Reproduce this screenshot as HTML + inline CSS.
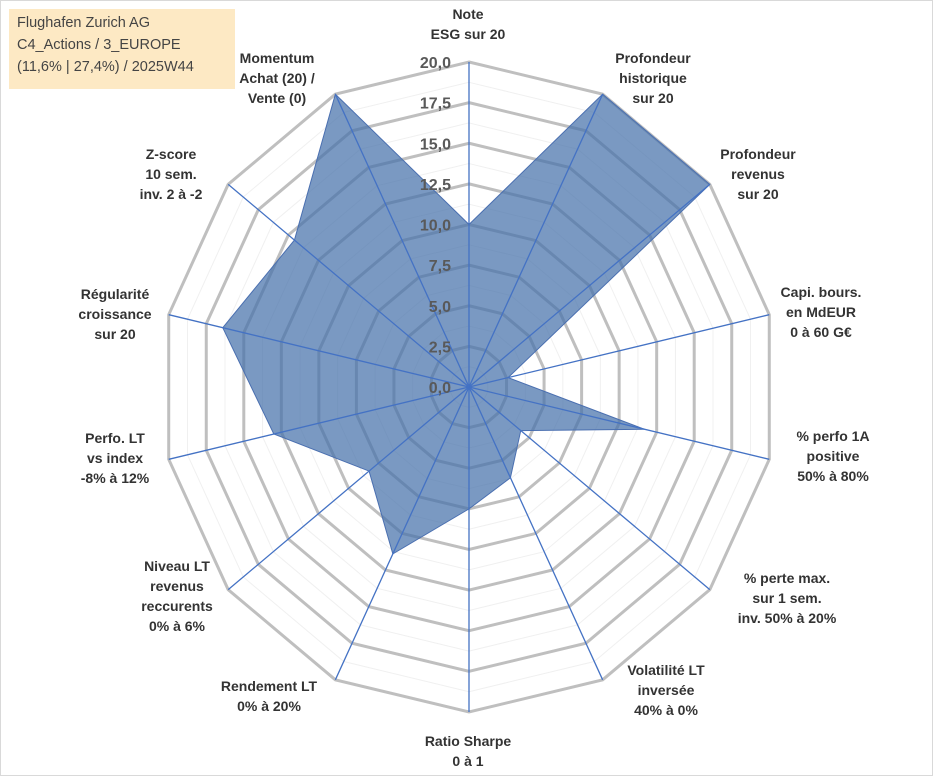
<!DOCTYPE html>
<html><head><meta charset="utf-8"><style>
body{margin:0;background:#fff;font-family:"Liberation Sans",Arial,sans-serif}
#wrap{position:relative;width:933px;height:776px;overflow:hidden;border:1px solid #d9d9d9;box-sizing:border-box}
.lbl{font-weight:bold;font-size:14px;fill:#333;text-anchor:middle}
</style></head><body>
<div id="wrap">
<div style="position:absolute;left:8px;top:8px;width:226px;height:80px;background:#fde9c4;font-size:14.5px;color:#444;line-height:22px;padding:3px 0 0 8px;box-sizing:border-box">Flughafen Zurich AG<br>C4_Actions / 3_EUROPE<br>(11,6% | 27,4%) / 2025W44</div>
<svg id="svg" width="933" height="776" style="position:absolute;left:0;top:0"></svg>
</div>
<script>
const categories=[["Note","ESG sur 20"],["Profondeur","historique","sur 20"],["Profondeur","revenus","sur 20"],["Capi. bours.","en MdEUR","0 à 60 G€"],["% perfo 1A","positive","50% à 80%"],["% perte max.","sur 1 sem.","inv. 50% à 20%"],["Volatilité LT","inversée","40% à 0%"],["Ratio Sharpe","0 à 1"],["Rendement LT","0% à 20%"],["Niveau LT","revenus","reccurents","0% à 6%"],["Perfo. LT","vs index","-8% à 12%"],["Régularité","croissance","sur 20"],["Z-score","10 sem.","inv. 2 à -2"],["Momentum","Achat (20) /","Vente (0)"]];
const values=[10,20,20,2.6,11.7,4.3,6.2,7.5,11.4,8.3,13.0,16.4,14.5,20];
const ticks=["0,0","2,5","5,0","7,5","10,0","12,5","15,0","17,5","20,0"];
const labelPos=[[467,18],[652,62],[757,158],[820,296],[832,440],[786,582],[665,674],[467,745],[268,690],[176,570],[114,442],[114,298],[170,158],[276,62]];
const svg=document.getElementById('svg');const NS="http://www.w3.org/2000/svg";
const cx=468,cy=386,Ry=325,Rx=308,maxV=20,n=categories.length;
function pt(i,v){const a=i*2*Math.PI/n;const f=v/maxV;return [cx+f*Rx*Math.sin(a),cy-f*Ry*Math.cos(a)];}
function mk(t,attrs){const e=document.createElementNS(NS,t);for(const k in attrs)e.setAttribute(k,attrs[k]);svg.appendChild(e);return e;}
for(let k=1;k<=16;k++){const v=k*1.25;const p=[];for(let i=0;i<n;i++)p.push(pt(i,v).join(','));
const g=mk('polygon',{points:p.join(' '),fill:'none',stroke:k%2==0?'#bfbfbf':'#f0f0f0','stroke-width':k%2==0?3:1});

}
const pp=values.map((v,i)=>pt(i,v).join(','));
const area=mk('polygon',{points:pp.join(' '),fill:'rgba(70,114,171,0.72)',stroke:'#4a6fb0','stroke-width':1});


for(let i=0;i<n;i++){const e=pt(i,maxV);const l=mk('line',{x1:cx,y1:cy,x2:e[0],y2:e[1],stroke:'#4472c4','stroke-width':1.3});

}
ticks.forEach((t,k)=>{const y=cy-k*2.5/maxV*Ry;const tx=mk('text',{x:450,y:y+6,'text-anchor':'end','font-size':16,'font-weight':'bold',fill:'#595959'});tx.textContent=t;

});
categories.forEach((c,i)=>{const [x,y]=labelPos[i];const t=mk('text',{x:x,y:y,class:'lbl'});


c.forEach((s,j)=>{const ts=document.createElementNS(NS,'tspan');ts.setAttribute('x',x);ts.setAttribute('dy',j==0?0:20);ts.textContent=s;t.appendChild(ts);});});
</script>
</body></html>
